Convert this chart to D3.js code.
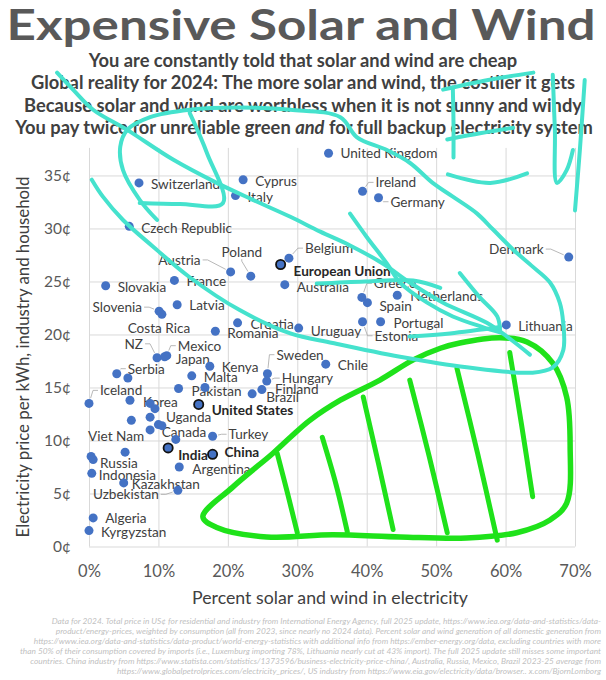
<!DOCTYPE html>
<html>
<head>
<meta charset="utf-8">
<script src="https://cdn.jsdelivr.net/npm/d3@7"></script>
<style>
body { margin: 0; background: #fff; }
svg text { font-family: Lato, "Noto Sans", sans-serif; }
</style>
</head>
<body>
<svg id="chart" width="606" height="680"></svg>
<script>

// data: % solar+wind, price in US cents per kWh
var countries = ["United Kingdom","Switzerland","Cyprus","Italy","Ireland","Germany","Czech Republic","Denmark",
    "Belgium","European Union","Poland","Austria","Australia","France","Slovakia","Latvia","Slovenia","Costa Rica",
    "Greece","Spain","Netherlands","Portugal","Estonia","Uruguay","Lithuania","Croatia","Romania","NZ","Mexico",
    "Japan","Kenya","Serbia","","Malta","Pakistan","","Sweden","Hungary","Finland","Brazil","Chile","Iceland",
    "Korea","","","","","Viet Nam","","Uganda","Canada","United States","Turkey","India","China","","Russia","",
    "Indonesia","Argentina","Kazakhstan","Uzbekistan","Algeria","Kyrgyzstan"];
var solarWind = [34.5,7.2,22.2,21.1,39.4,41.7,5.8,69.1,
    28.8,27.6,23.3,20.4,28.2,12.3,2.4,12.7,10.1,10.5,
    39.3,40.1,44.4,42.0,39.4,30.2,60.1,21.4,18.2,9.8,11.2,
    10.9,17.4,4.0,5.6,14.8,12.9,16.7,25.7,25.6,24.9,23.5,34.1,0.0,
    5.9,8.8,9.5,6.1,8.8,8.8,10.0,10.5,12.5,15.8,17.8,11.4,17.8,5.2,0.3,0.6,
    0.4,13.0,5.0,12.8,0.6,0.0];
var price = [37.1,34.3,34.6,33.1,33.5,32.9,30.2,27.3,
    27.2,26.6,25.5,25.9,24.7,25.1,24.6,22.8,22.2,21.9,
    23.5,23.0,23.7,21.2,21.2,20.6,20.9,21.1,20.3,17.8,18.0,
    17.9,17.0,16.3,15.9,16.1,14.9,15.0,16.3,15.6,14.8,14.4,17.2,13.5,
    13.8,13.5,13.0,11.9,12.2,11.0,11.5,11.4,10.1,13.4,10.4,9.3,8.7,8.9,8.5,8.2,
    6.9,7.5,6.0,5.3,2.7,1.5];
var highlighted = ["European Union","United States","India","China"];

var xTicks = [0,10,20,30,40,50,60,70];
var yTicks = [0,5,10,15,20,25,30,35];

var title = "Expensive Solar and Wind";
var subtitleLines = [
    "You are constantly told that solar and wind are cheap",
    "Global reality for 2024: The more solar and wind, the costlier it gets",
    "Because solar and wind are worthless when it is not sunny and windy"
];
var subtitleLast = ["You pay twice for unreliable green ", "and", " for full backup electricity system"];
var xTitle = "Percent solar and wind in electricity";
var yTitle = "Electricity price per kWh, industry and household";
var footnoteLines = [
    "Data for 2024. Total price in US¢ for residential and industry from International Energy Agency, full 2025 update, https://www.iea.org/data-and-statistics/data-",
    "product/energy-prices, weighted by consumption (all from 2023, since nearly no 2024 data). Percent solar and wind generation of all domestic generation from",
    "https://www.iea.org/data-and-statistics/data-product/world-energy-statistics with additional info from https://ember-energy.org/data, excluding countries with more",
    "than 50% of their consumption covered by imports (i.e., Luxemburg importing 78%, Lithuania nearly cut at 43% import). The full 2025 update still misses some important",
    "countries. China industry from https://www.statista.com/statistics/1373596/business-electricity-price-china/, Australia, Russia, Mexico, Brazil 2023-25 average from",
    "https://www.globalpetrolprices.com/electricity_prices/, US industry from https://www.eia.gov/electricity/data/browser.. x.com/BjornLomborg"
];

// hand drawn scribbles on top of the chart, in data units (%, cents)
var cyanScribbles = [
    [[-4.6,44.7],[-2.3,43.1],[0.6,41.2],[5.5,39.3],[12.1,36.5],[18.4,34.3],[23.6,32.7],[29.0,31.1],[33.3,29.7],
     [37.6,28.4],[42.3,26.7],[46.2,24.9],[51.0,23.0],[57.3,21.1],[60.2,19.8],[63.5,18.1]],
    [[9.8,30.8],[7.3,32.7],[4.9,35.5],[4.5,37.7],[5.5,39.3],[8.8,40.5],[14.5,41.2],[21.7,41.4],[29.0,41.2],
     [36.2,40.5],[38.6,38.6],[42.9,37.4],[46.2,36.2],[49.5,34.3],[52.4,33.0],[55.9,31.4],[58.2,29.9],[61.1,28.0],
     [63.9,26.4],[66.4,24.9],[67.8,23.0],[68.3,21.1],[68.3,18.5],[66.8,16.9],[63.9,16.4],[54.4,16.9],[44.8,17.9],
     [35.1,19.2],[29.0,20.1],[21.7,22.3],[14.5,25.4],[9.2,28.3],[4.9,30.8],[2.0,33.0],[0.4,34.6]],
    [[14.5,40.9],[17.0,37.1],[19.3,32.4],[13.1,32.3],[7.3,32.4]],
    [[37.6,31.4],[40.0,29.2],[42.9,26.7],[44.8,24.9],[48.7,23.0],[52.4,21.7],[56.7,20.7],[59.2,20.2]],
    [[53.4,25.8],[56.3,23.5],[58.8,21.7],[59.2,20.4]],
    [[32.8,24.8],[39.8,25.0],[46.7,25.1],[50.6,24.4]],
    [[46.2,19.8],[52.0,20.1],[59.2,20.7]],
    // "E"
    [[52.4,43.3],[52.5,40.0],[52.5,36.7]],
    [[51.0,43.1],[57.5,44.0],[64.0,44.7]],
    [[51.6,38.4],[56.5,39.0],[61.1,39.5]],
    [[51.7,35.1],[57.8,34.3],[63.1,35.2]],
    // "U"
    [[66.8,44.5],[67.1,39.3],[67.4,34.3],[68.8,35.5],[69.7,37.4]],
    [[71.4,44.0],[70.7,37.4],[70.0,31.7]]
];
var greenOutline = [[16.4,2.8],[20.7,5.6],[26.5,8.8],[29.0,10.3],[31.8,11.9],[36.2,13.8],[41.9,15.7],[46.7,17.6],
    [50.6,18.7],[53.4,19.2],[59.2,19.7],[63.1,19.3],[66.8,17.3],[68.8,14.1],[69.3,9.4],[68.8,4.1],[66.4,2.5],
    [61.6,1.3],[54.4,0.8],[44.8,0.9],[35.1,1.1],[25.6,0.9],[18.4,1.8]];
var greenHatches = [
    [[27.1,8.8],[28.6,5.0],[30.0,1.3]],
    [[33.6,10.3],[35.6,5.8],[37.2,1.4]],
    [[39.5,14.1],[41.7,7.8],[43.8,1.6]],
    [[46.2,15.7],[49.0,8.5],[51.6,1.3]],
    [[53.0,16.8],[56.0,8.7],[58.8,0.6]],
    [[60.6,18.3],[62.3,11.5],[63.9,4.7]]
];

// label placement: dx, dy from dot, anchor, leader line
var labelPos = {
    "United Kingdom": [12,0], "Switzerland": [12,1], "Cyprus": [12,1], "Italy": [12,1],
    "Ireland": [13,-9,"start",1], "Germany": [12,4,"start",1], "Czech Republic": [12,2],
    "Denmark": [-25,-8,"end",1], "Belgium": [16,-10,"start",1], "European Union": [13,6],
    "Poland": [-9,-24,"middle",1], "Austria": [-30,-12,"end",1], "Australia": [12,2], "France": [12,1],
    "Slovakia": [12,1], "Latvia": [12,0], "Slovenia": [-17,-4,"end",1], "Costa Rica": [-3,14,"middle"],
    "Greece": [12,-14,"start",1], "Spain": [12,3], "Netherlands": [13,1], "Portugal": [13,1],
    "Estonia": [12,14,"start",1], "Uruguay": [12,3], "Lithuania": [12,1], "Croatia": [13,1], "Romania": [12,2],
    "NZ": [-14,-14,"end",1], "Mexico": [11,-10,"start",1], "Japan": [11,2], "Kenya": [12,1],
    "Serbia": [11,-5,"start",1], "Malta": [12,1], "Pakistan": [13,2], "Sweden": [9,-19,"start",1],
    "Hungary": [15,-3,"start",1], "Finland": [13,-1], "Brazil": [14,3], "Chile": [12,1],
    "Iceland": [11,-13,"start",1], "Korea": [13,2], "Viet Nam": [-6,6,"end"], "Uganda": [4,-9],
    "Canada": [-14,-7], "United States": [13,6], "Turkey": [16,-2,"start",1], "India": [10,7],
    "China": [12,-2], "Russia": [9,7], "Indonesia": [7,2], "Argentina": [13,2], "Kazakhstan": [8,1],
    "Uzbekistan": [-19,4,"end",1], "Algeria": [12,0], "Kyrgyzstan": [12,1]
};

var svg = d3.select("#chart");

// scale the font so the text is as wide as in the original
function fitWidth(sel, target) {
    var w = sel.node().getComputedTextLength();
    var fs = parseFloat(sel.attr("font-size"));
    sel.attr("font-size", fs * target / w);
    return fs * target / w;
}

var x = d3.scaleLinear().domain([0, 70]).range([89, 575]);
var y = d3.scaleLinear().domain([0, 37.6]).range([546.5, 147.9]);

// title + subtitle (title keeps the original cap height, stretched to its width)
svg.append("text").attr("x", 301).attr("y", 40).attr("text-anchor", "middle")
    .attr("font-weight", "bold").attr("font-size", 42).attr("fill", "#595959")
    .attr("textLength", 589).attr("lengthAdjust", "spacingAndGlyphs").text(title);

var subBase = [66.5, 89, 111.5];
var last = svg.append("text").attr("x", 304).attr("y", 133.5).attr("text-anchor", "middle")
    .attr("font-weight", "bold").attr("font-size", 16).attr("fill", "#404040");
last.selectAll("tspan").data(subtitleLast).enter().append("tspan")
    .attr("font-style", function(d, i) { return i == 1 ? "italic" : null; })
    .text(function(d) { return d; });
var subSize = fitWidth(last, 578);
subtitleLines.forEach(function(s, i) {
    svg.append("text").attr("x", 303).attr("y", subBase[i]).attr("text-anchor", "middle")
        .attr("font-weight", "bold").attr("font-size", subSize).attr("fill", "#404040").text(s);
});

// axes with gridlines
var yAxis = svg.append("g").attr("transform", "translate(" + x(0) + ",0)")
    .call(d3.axisLeft(y).tickValues(yTicks).tickSize(-(x(70) - x(0))).tickPadding(18)
        .tickFormat(function(d) { return d + "¢"; }));
var xAxis = svg.append("g").attr("transform", "translate(0," + y(0) + ")")
    .call(d3.axisBottom(x).tickValues(xTicks).tickSize(-(y(0) - y(37.6))).tickPadding(19)
        .tickFormat(function(d) { return d + "%"; }));
[yAxis, xAxis].forEach(function(a) {
    a.select(".domain").remove();
    a.selectAll(".tick line").attr("stroke", "#d9d9d9");
    a.selectAll(".tick text").attr("fill", "#595959").style("font-family", "Lato, sans-serif");
});
yAxis.selectAll(".tick text").attr("font-size", 15.5);
xAxis.selectAll(".tick text").attr("font-size", 16.5);

var xt = svg.append("text").attr("x", 330).attr("y", 604).attr("text-anchor", "middle")
    .attr("font-size", 18).attr("fill", "#404040").text(xTitle);
fitWidth(xt, 276);
var yt = svg.append("text").attr("transform", "translate(29,357) rotate(-90)").attr("text-anchor", "middle")
    .attr("font-size", 16).attr("fill", "#404040").text(yTitle);
fitWidth(yt, 361);

// points
var points = countries.map(function(c, i) {
    return {name: c, sw: solarWind[i], p: price[i], hi: highlighted.indexOf(c) >= 0};
});

var labelSize = 13;
var probe = svg.append("text").attr("font-size", 13).text("United Kingdom");
labelSize = fitWidth(probe, 97);
probe.remove();

var lab = svg.append("g");
points.forEach(function(d) {
    var lp = labelPos[d.name];
    if (!d.name || !lp) return;
    var px = x(d.sw), py = y(d.p);
    var lx = px + lp[0], ly = py + lp[1], anchor = lp[2] || "start";
    if (lp[3]) {
        var a, b;
        if (anchor == "start") { a = [lx - 2, ly]; b = [lx - 7, ly]; }
        else if (anchor == "end") { a = [lx + 2, ly]; b = [lx + 7, ly]; }
        else { a = [lx, ly + 7]; b = [lx, ly + 9]; }
        var ang = Math.atan2(b[1] - py, b[0] - px);
        var e = [px + Math.cos(ang) * 5.5, py + Math.sin(ang) * 5.5];
        lab.append("path").attr("d", d3.line()([a, b, e]))
            .attr("fill", "none").attr("stroke", "#a6a6a6").attr("stroke-width", 0.8);
    }
    lab.append("text").attr("x", lx).attr("y", ly).attr("text-anchor", anchor)
        .attr("dominant-baseline", "central").attr("font-size", labelSize)
        .attr("font-weight", d.hi ? "bold" : null)
        .attr("fill", d.hi ? "#262626" : "#404040").text(d.name);
});

svg.append("g").selectAll("circle")
    .data(points.filter(function(d) { return !d.hi; }).concat(points.filter(function(d) { return d.hi; })))
    .enter().append("circle")
    .attr("cx", function(d) { return x(d.sw); })
    .attr("cy", function(d) { return y(d.p); })
    .attr("r", function(d) { return d.hi ? 4.6 : 4.5; })
    .attr("fill", "#4472c4")
    .attr("stroke", function(d) { return d.hi ? "#111" : "none"; })
    .attr("stroke-width", 1.8);

// footnote
var foot = svg.append("g");
var f4 = foot.append("text").attr("font-size", 8).attr("font-style", "italic").text(footnoteLines[3]);
var footSize = fitWidth(f4, 582);
f4.remove();
footnoteLines.forEach(function(s, i) {
    foot.append("text").attr("x", 601).attr("y", 623.5 + i * 10).attr("text-anchor", "end")
        .attr("font-size", footSize).attr("font-style", "italic").attr("fill", "#bfbfbf").text(s);
});

// scribbles
var pen = d3.line().x(function(d) { return x(d[0]); }).y(function(d) { return y(d[1]); })
    .curve(d3.curveCatmullRom.alpha(0.5));
var closedPen = d3.line().x(function(d) { return x(d[0]); }).y(function(d) { return y(d[1]); })
    .curve(d3.curveCatmullRomClosed.alpha(0.5));

var scrib = svg.append("g").attr("fill", "none").attr("stroke-linecap", "round").attr("stroke-linejoin", "round");
scrib.append("path").attr("d", closedPen(greenOutline)).attr("stroke", "#1fe21a").attr("stroke-width", 5.5);
scrib.selectAll("path.hatch").data(greenHatches).enter().append("path").attr("class", "hatch")
    .attr("d", pen).attr("stroke", "#1fe21a").attr("stroke-width", 5);
scrib.selectAll("path.cyan").data(cyanScribbles).enter().append("path").attr("class", "cyan")
    .attr("d", pen).attr("stroke", "#45e2cd").attr("stroke-width", 4);

</script>
</body>
</html>
